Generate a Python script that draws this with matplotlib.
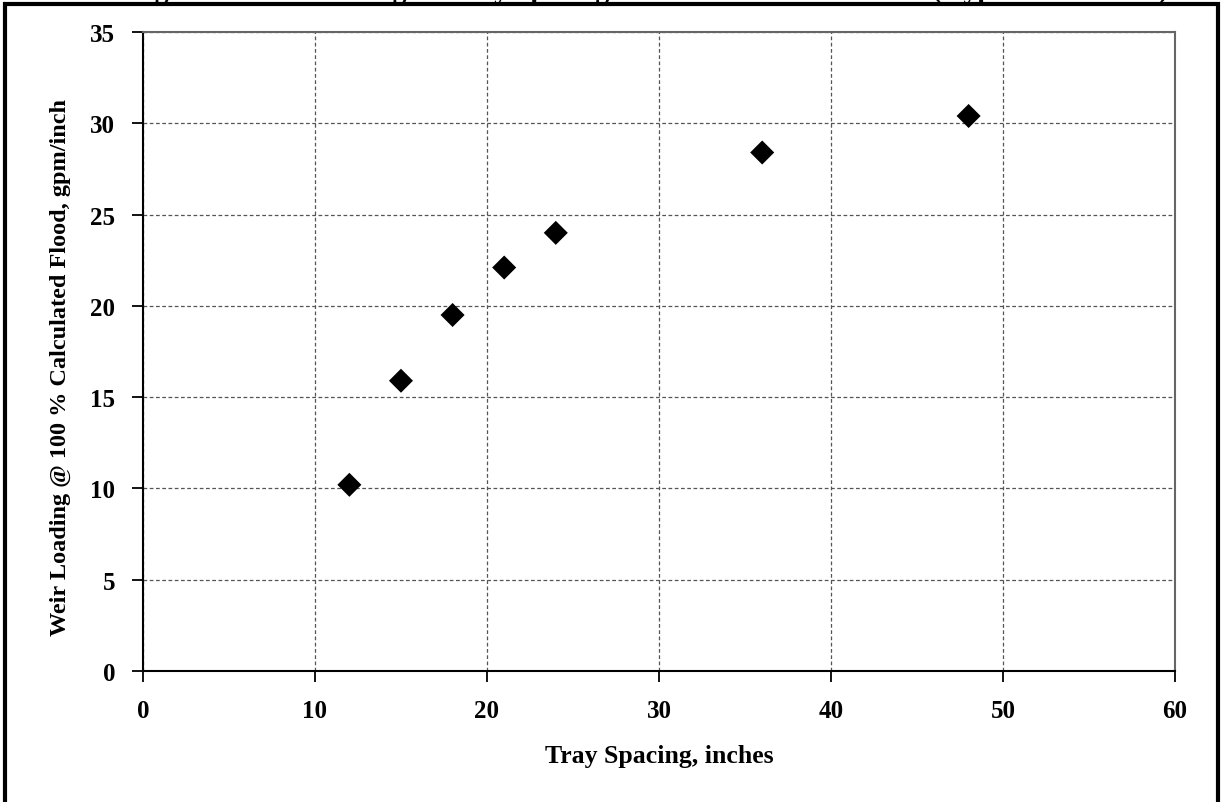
import matplotlib
matplotlib.use("Agg")
import matplotlib.pyplot as plt
from matplotlib.patches import Rectangle

# Datos
espaciado_plato = [12, 15, 18, 21, 24, 36, 48]
carga_vertedero = [10.2, 15.9, 19.5, 22.1, 24.0, 28.4, 30.4]

TITULO = "Figure 6. Weir Loading vs. Tray Spacing at 100% Calculated Flood (Hypothetical Data)"
X_LABEL = "Tray Spacing, inches"
Y_LABEL = "Weir Loading @ 100 % Calculated Flood, gpm/inch"

plt.rcParams["font.family"] = ["Liberation Serif", "DejaVu Serif"]
plt.rcParams["font.weight"] = "bold"

fig = plt.figure(figsize=(12.25, 8.03), dpi=100)
ax = fig.add_axes([0.1167, 0.1631, 0.8425, 0.7958])

ax.scatter(espaciado_plato, carga_vertedero, marker="D", s=150, color="black",
           edgecolors="none", zorder=3)

ax.set_xlim(0, 60)
ax.set_ylim(0, 35)
ax.set_xticks(range(0, 61, 10))
ax.set_yticks(range(0, 36, 5))
ax.grid(True, color="#555555", linestyle=(0, (3, 2)), linewidth=0.9)
ax.tick_params(direction="out", length=8, width=1.3, labelsize=18, pad=12)
for lbl in ax.get_xticklabels() + ax.get_yticklabels():
    lbl.set_fontweight("bold")

for lado in ("left", "bottom"):
    ax.spines[lado].set_color("black")
    ax.spines[lado].set_linewidth(1.5)
for lado in ("top", "right"):
    ax.spines[lado].set_color("#666666")
    ax.spines[lado].set_linewidth(1.5)

ax.set_xlabel(X_LABEL, fontsize=18.5, fontweight="bold", labelpad=16)
ax.set_ylabel(Y_LABEL, fontsize=17.5, fontweight="bold")
ax.yaxis.set_label_coords(-0.07, 0.477)

# marco negro alrededor del gráfico y título recortado arriba
fig.patches.append(Rectangle((5 / 1225, -0.01), 1213 / 1225, 1 - 5 / 803 + 0.01,
                             transform=fig.transFigure, fill=False,
                             edgecolor="black", linewidth=3))
fig.text(0.53, 1.0 + 2 / 803, TITULO, ha="center", va="baseline",
         fontsize=20, fontweight="bold")

fig.savefig("out.png", dpi=100)
